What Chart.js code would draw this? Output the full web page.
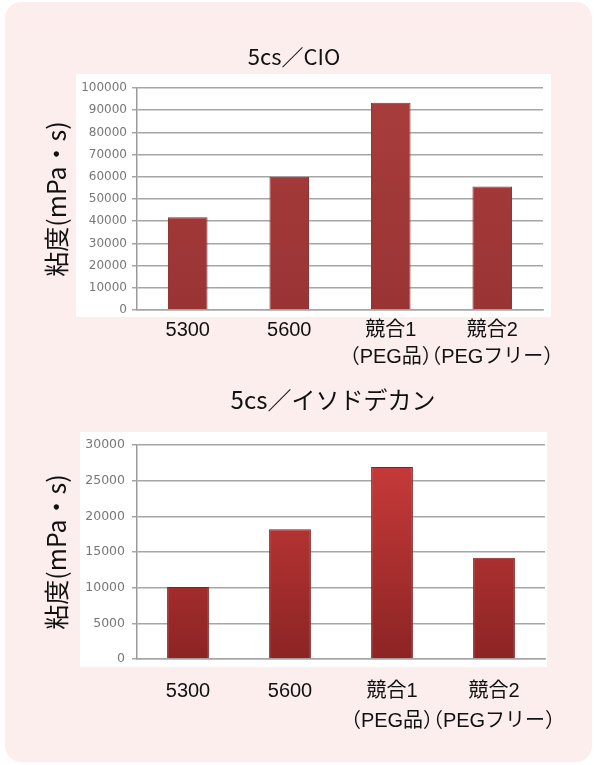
<!DOCTYPE html>
<html lang="ja">
<head>
<meta charset="utf-8">
<script src="https://cdn.jsdelivr.net/npm/chart.js@4.4.1/dist/chart.umd.min.js"></script>
<style>
  html, body { margin: 0; padding: 0; background: #fff; overflow: hidden; }
  .panel { position: absolute; left: 5px; top: 2px; width: 587px; height: 760px; background: #fdeeee; border-radius: 16px; }
  .chart-wrapper { position: absolute; left: 0; width: 597px; }
  #wrap1 { top: 30px; height: 350px; }
  #wrap2 { top: 380px; height: 376px; }
</style>
</head>
<body>
<div class="panel"></div>
<div class="chart-wrapper" id="wrap1"><canvas id="chart1" width="597" height="350"></canvas></div>
<div class="chart-wrapper" id="wrap2"><canvas id="chart2" width="597" height="376"></canvas></div>
<script>
const categories = [
  "5300",
  "5600",
  ["競合1", "（PEG品）"],
  ["競合2", "（PEGフリー）"],
];
const cioValues = [41800, 60000, 93300, 55600];
const isododecaneValues = [10100, 18200, 26900, 14200];
const cioTicks = [0, 10000, 20000, 30000, 40000, 50000, 60000, 70000, 80000, 90000, 100000];
const isododecaneTicks = [0, 5000, 10000, 15000, 20000, 25000, 30000];
const yTitle = "粘度(mPa・s)";

// title drawn by hand so it can sit off-centre like the original
const panelTitle = {
  id: "panelTitle",
  afterDraw(chart, args, opts) {
    const { ctx, chartArea } = chart;
    ctx.save();
    ctx.font = opts.font;
    ctx.fillStyle = "#111";
    ctx.textAlign = "center";
    ctx.textBaseline = "middle";
    ctx.fillText(opts.text, (chartArea.left + chartArea.right) / 2 + opts.dx, opts.y);
    ctx.restore();
  },
};

// white box behind plot + tick labels
const plotBox = {
  id: "plotBox",
  beforeDraw(chart, args, opts) {
    const { ctx, chartArea } = chart;
    ctx.save();
    ctx.fillStyle = "#fff";
    ctx.fillRect(chartArea.left - opts.l, chartArea.top - opts.t,
      chartArea.right - chartArea.left + opts.l + opts.r,
      chartArea.bottom - chartArea.top + opts.t + opts.b);
    ctx.restore();
  },
};

function barFill(top, bottom) {
  return (context) => {
    const area = context.chart.chartArea;
    if (!area) return bottom;
    const g = context.chart.ctx.createLinearGradient(0, area.top, 0, area.bottom);
    g.addColorStop(0, top);
    g.addColorStop(1, bottom);
    return g;
  };
}

function makeChart(id, cfg) {
  const ctx = document.getElementById(id).getContext("2d");
  return new Chart(ctx, {
    type: "bar",
    data: {
      labels: categories,
      datasets: [
        {
          data: cfg.values,
          backgroundColor: barFill(cfg.barTop, cfg.barBottom),
          borderColor: cfg.barEdge,
          borderWidth: 1,
          borderSkipped: "bottom",
          categoryPercentage: 1,
          barPercentage: cfg.barPct,
        },
      ],
    },
    options: {
      responsive: false,
      animation: false,
      layout: { padding: cfg.padding },
      plugins: {
        legend: { display: false },
        tooltip: { enabled: false },
        title: { display: false },
        panelTitle: { text: cfg.title, font: cfg.titleFont, dx: cfg.titleDx, y: cfg.titleY },
        plotBox: cfg.box,
      },
      scales: {
        x: {
          grid: { display: false, drawTicks: false },
          border: { display: true, color: "#a6a6a6", width: 1.5 },
          ticks: {
            color: "#111",
            font: { family: '"Liberation Sans", "Noto Sans CJK JP"', size: 20, lineHeight: cfg.labelLine },
            padding: cfg.labelPad,
            maxRotation: 0,
            minRotation: 0,
            autoSkip: false,
          },
        },
        y: {
          min: 0,
          max: cfg.ticks[cfg.ticks.length - 1],
          afterBuildTicks: (scale) => {
            scale.ticks = cfg.ticks.map((v) => ({ value: v }));
          },
          afterFit: (scale) => {
            scale.width = 107;
          },
          grid: { color: "#a6a6a6", lineWidth: 1.5, tickLength: 5 },
          border: { color: "#9a9a9a", width: 1.5 },
          ticks: {
            color: "#777",
            font: { family: '"DejaVu Sans"', size: cfg.tickSize },
            padding: cfg.tickPad,
            callback: (v) => String(v),
          },
          title: {
            display: true,
            text: yTitle,
            color: "#111",
            font: { family: '"Noto Sans CJK JP"', size: 25 },
            padding: { top: 11, bottom: 0 },
          },
        },
      },
    },
    plugins: [panelTitle, plotBox],
  });
}

makeChart("chart1", {
  title: "5cs／CIO",
  titleFont: '22px "Noto Sans CJK JP"',
  titleDx: -46,
  titleY: 27,
  values: cioValues,
  ticks: cioTicks,
  barTop: "#a83d3c",
  barBottom: "#9a3434",
  barEdge: "#8a2f2f",
  barPct: 0.39,
  padding: { top: 58, bottom: 2, left: 30, right: 54 },
  labelLine: 1.35,
  labelPad: 7,
  tickSize: 12,
  tickPad: 5,
  box: { l: 61, r: 8, t: 14, b: 7 },
});

makeChart("chart2", {
  title: "5cs／イソドデカン",
  titleFont: '24px "Noto Sans CJK JP"',
  titleDx: -8,
  titleY: 20,
  values: isododecaneValues,
  ticks: isododecaneTicks,
  barTop: "#cc3c3b",
  barBottom: "#8c2424",
  barEdge: "#7e2222",
  barPct: 0.41,
  padding: { top: 65, bottom: 3, left: 30, right: 52 },
  labelLine: 1.5,
  labelPad: 17,
  tickSize: 12.5,
  tickPad: 7,
  box: { l: 57, r: 2, t: 13, b: 8 },
});
</script>
</body>
</html>
